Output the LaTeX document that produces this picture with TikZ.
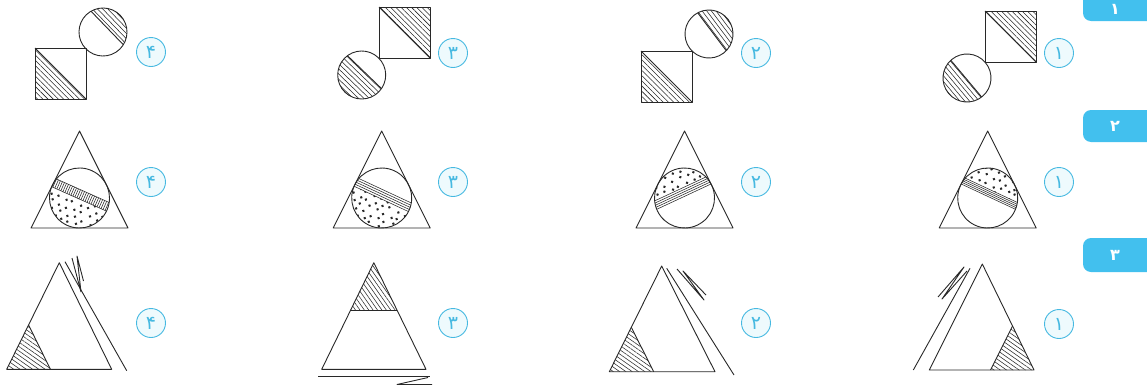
\documentclass[tikz,border=0pt]{standalone}
\usepackage{fontspec}
\newfontfamily\arabicfont[Script=Arabic]{DejaVu Sans}
\usetikzlibrary{patterns.meta}
\definecolor{labcyan}{RGB}{70,185,225}
\definecolor{labfill}{RGB}{238,250,253}
\definecolor{tabcyan}{RGB}{66,192,238}
\definecolor{ink}{RGB}{40,40,40}
\newcommand\dotfield{%
  \foreach \i in {-4,...,4}{\foreach \j in {-5,...,5}{%
    \pgfmathsetmacro\dx{\i*8+mod(abs(\j),2)*4+1.8*rand}%
    \pgfmathsetmacro\dy{\j*6.6+1.5*rand}%
    \fill[ink] (\dx,\dy) circle (1.45);}}}
\newcommand\stripelines[2]{%
  \foreach \t in {0,0.25,0.5,0.75,1}{\draw[thinln] (-32,{#1+\t*(#2-#1)}) -- (32,{#1+\t*(#2-#1)});}}
\newcommand\stripeladder[2]{%
  \draw[thinln] (-32,#1) -- (32,#1); \draw[thinln] (-32,#2) -- (32,#2);
  \foreach \xx in {-31,-28.8,...,31}{\draw[thinln] (\xx,#1) -- (\xx,#2);}}
\newcommand\hatchcirc[5]{% cx cy theta ylow yhigh
  \begin{scope}[shift={(#1,#2)},rotate=#3]
    \begin{scope}
      \clip (0,0) circle (24);
      \clip (-30,#4) rectangle (30,#5);
      \foreach \k in {0,...,14}{\draw[thinln] (-30,{#4+0.8+\k*3.7}) -- (30,{#4+0.8+\k*3.7});}
    \end{scope}
    \begin{scope}
      \clip (0,0) circle (24);
      \draw[ln] (-30,#4) -- (30,#4); \draw[ln] (-30,#5) -- (30,#5);
    \end{scope}
    \draw[ln] (0,0) circle (24);
  \end{scope}}
\begin{document}
\begin{tikzpicture}[x=1pt,y=-1pt,
  ln/.style={line width=0.9pt,draw=ink,line join=round},
  thinln/.style={line width=0.55pt,draw=ink},
  hatchS/.style={pattern={Lines[angle=-45,distance=3.7pt,line width=0.55pt]},pattern color=ink},
  hatchT/.style={pattern={Lines[angle=-35,distance=3.6pt,line width=0.55pt]},pattern color=ink},
  hatchU/.style={pattern={Lines[angle=-55,distance=3.6pt,line width=0.55pt]},pattern color=ink},
  lab/.style={circle,draw=labcyan,fill=labfill,line width=0.9pt,minimum size=29pt,inner sep=0pt,
    text=labcyan,font=\arabicfont\fontsize{19}{19}\selectfont},
  tab/.style={fill=tabcyan,rounded corners=8pt},
  tabtxt/.style={text=white,font=\arabicfont\bfseries\fontsize{16}{16}\selectfont,inner sep=0pt}]
\useasboundingbox (0,0) rectangle (1147,386);
\clip (0,0) rectangle (1147,386);
\pgfmathsetseed{7}

% ---------- tabs ----------
\fill[tab] (1083,-12) rectangle (1175,21);
\node[tabtxt] (t1) at (1115,9) {۱};
\fill[tab] (1083,110) rectangle (1175,142);
\node[tabtxt] (t2) at (1115,126) {۲};
\fill[tab] (1083,238) rectangle (1175,272);
\node[tabtxt] (t3) at (1115,255) {۳};

% ---------- row 1 ----------
% option 4
\fill[hatchS] (35,48) -- (35,99) -- (86,99) -- cycle;
\draw[ln] (35,48) rectangle (86,99);
\draw[ln] (35,48) -- (86,99);
\hatchcirc{103}{32}{-46}{-24}{-5.8}
% option 3
\fill[hatchS] (379,7) -- (430,7) -- (430,58) -- cycle;
\draw[ln] (379,7) rectangle (430,58);
\draw[ln] (379,7) -- (430,58);
\hatchcirc{361.7}{75}{-44}{-4}{24}
% option 2
\fill[hatchS] (641,51) -- (641,102) -- (692,102) -- cycle;
\draw[ln] (641,51) rectangle (692,102);
\draw[ln] (641,51) -- (692,102);
\hatchcirc{709}{34}{-53}{-24}{-3.7}
% option 1
\fill[hatchS] (985,11) -- (1036,11) -- (1036,62) -- cycle;
\draw[ln] (985,11) rectangle (1036,62);
\draw[ln] (985,11) -- (1036,62);
\hatchcirc{967}{78}{-50}{1}{24}

\node[lab] (l14) at (151,52) {۴};
\node[lab] (l13) at (453,53) {۳};
\node[lab] (l12) at (756,53) {۲};
\node[lab] (l11) at (1059,53) {۱};

% ---------- row 2 ----------
% option 4
\begin{scope}[shift={(79.5,198)},rotate=-24]
  \begin{scope}\clip (0,0) circle (30);
    \begin{scope}\clip (-35,1) rectangle (35,35); \dotfield \end{scope}
    \stripeladder{-8}{1}
  \end{scope}
  \draw[ln] (0,0) circle (30);
\end{scope}
\draw[ln] (79.5,131) -- (31,228) -- (128,228) -- cycle;
% option 3
\begin{scope}[shift={(381.7,198)},rotate=-25]
  \begin{scope}\clip (0,0) circle (30);
    \begin{scope}\clip (-35,1) rectangle (35,35); \dotfield \end{scope}
    \stripelines{-8}{1}
  \end{scope}
  \draw[ln] (0,0) circle (30);
\end{scope}
\draw[ln] (381.7,131) -- (333.2,228) -- (430.2,228) -- cycle;
% option 2
\begin{scope}[shift={(684.5,198)},rotate=25]
  \begin{scope}\clip (0,0) circle (30);
    \begin{scope}\clip (-35,-35) rectangle (35,-10); \dotfield \end{scope}
    \stripelines{-10}{-1.5}
  \end{scope}
  \draw[ln] (0,0) circle (30);
\end{scope}
\draw[ln] (684.5,131) -- (636,228) -- (733,228) -- cycle;
% option 1
\begin{scope}[shift={(987.7,198)},rotate=-25]
  \begin{scope}\clip (0,0) circle (30);
    \begin{scope}\clip (-35,-35) rectangle (35,-8.5); \dotfield \end{scope}
    \stripelines{-8.5}{-1.5}
  \end{scope}
  \draw[ln] (0,0) circle (30);
\end{scope}
\draw[ln] (987.7,131) -- (939.2,228) -- (1036.2,228) -- cycle;

\node[lab] (l24) at (151,182) {۴};
\node[lab] (l23) at (453,182) {۳};
\node[lab] (l22) at (756,182) {۲};
\node[lab] (l21) at (1059,182) {۱};

% ---------- row 3 ----------
% option 4
\fill[hatchT] (6.7,369.3) -- (28.6,325) -- (50.4,369.3) -- cycle;
\draw[ln] (28.6,325) -- (50.4,369.3);
\draw[ln] (59.3,262.7) -- (6.7,369.3) -- (111.7,369.3) -- cycle;
\draw[ln] (65,261.7) -- (126.7,370.7);
\draw[ln] (72,258) -- (81,292) -- (77,256) -- (83.5,281);
% option 3
\fill[hatchU] (373.8,262.7) -- (350.6,310) -- (397,310) -- cycle;
\draw[ln] (350.6,310) -- (397,310);
\draw[ln] (373.8,262.7) -- (321.7,369.3) -- (426,369.3) -- cycle;
\draw[ln] (318,376) -- (430,376);
\draw[ln] (428,377.5) -- (397,384.5) -- (432,384.5);
% option 2
\fill[hatchT] (609.3,371.7) -- (631.3,327.3) -- (653.7,371.7) -- cycle;
\draw[ln] (631.3,327.3) -- (653.7,371.7);
\draw[ln] (661.7,266) -- (609.3,371.7) -- (715,371.7) -- cycle;
\draw[ln] (666.7,268.3) -- (734,375);
\draw[ln] (677,269) -- (704,300) -- (683,271) -- (706,295);
% option 1
\fill[hatchT] (990.5,370) -- (1012.5,326) -- (1034,370) -- cycle;
\draw[ln] (1012.5,326) -- (990.5,370);
\draw[ln] (982.3,264) -- (929.3,370) -- (1034,370) -- cycle;
\draw[ln] (913.3,370) -- (970,268.3);
\draw[ln] (938,297) -- (964,267) -- (942,299) -- (967,271);

\node[lab] (l34) at (151,323) {۴};
\node[lab] (l33) at (453,323) {۳};
\node[lab] (l32) at (756,323) {۲};
\node[lab] (l31) at (1059,324) {۱};
\end{tikzpicture}
\end{document}
